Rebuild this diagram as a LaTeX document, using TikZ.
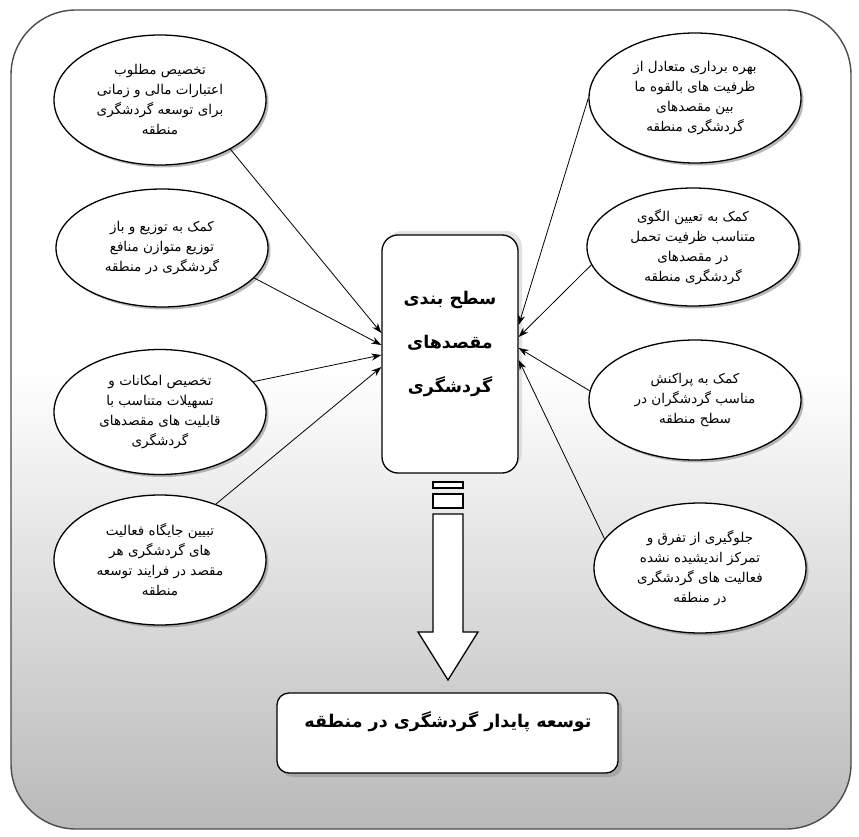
\documentclass[tikz,border=0pt]{standalone}
\usepackage{fontspec}
\newfontfamily\arabicfont[Script=Arabic]{DejaVu Sans}
\TeXXeTstate=1
\usetikzlibrary{shapes.geometric,shadows,arrows.meta,calc}
\newcommand\rl[1]{\beginR #1\endR}
\begin{document}
\begin{tikzpicture}[x=1pt,y=-1pt,
  oval/.style={ellipse,draw=black,line width=1.3pt,fill=white,minimum width=212pt,minimum height=130pt,inner sep=0pt,align=center,
    font=\arabicfont\fontsize{13.5}{20}\selectfont,
    drop shadow={shadow xshift=2.5pt,shadow yshift=-2.5pt,fill=black!55}},
  link/.style={line width=0.8pt,-{Stealth[length=10pt,width=7pt]}},
  boxline/.style={draw=black,line width=1.3pt,fill=white},
  bigtext/.style={font=\arabicfont\bfseries\fontsize{17.5}{44}\selectfont,align=center,inner sep=0pt},
]
\useasboundingbox (0,0) rectangle (859,837);
% background frame
\begin{scope}
  \clip[rounded corners=65pt] (11,10) rectangle (851,829);
  \fill[white] (0,0) rectangle (859,837);
  \shade[top color=white,bottom color=black!28] (0,370) rectangle (859,837);
\end{scope}
\draw[rounded corners=65pt,line width=1.4pt,draw=black!70] (11,10) rectangle (851,829);

% left ovals
\node[oval] (L1) at (160,100) {\rl{تخصیص مطلوب}\\\rl{اعتبارات مالی و زمانی}\\\rl{برای توسعه گردشگری}\\\rl{منطقه}};
\node[oval,minimum height=118pt] (L2) at (162,248) {\rl{کمک به توزیع و باز}\\\rl{توزیع متوازن منافع}\\\rl{گردشگری در منطقه}};
\node[oval,minimum height=125pt] (L3) at (160,412) {\rl{تخصیص امکانات و}\\\rl{تسهیلات متناسب با}\\\rl{قابلیت های مقصدهای}\\\rl{گردشگری}};
\node[oval] (L4) at (160,560) {\rl{تبیین جایگاه فعالیت}\\\rl{های گردشگری هر}\\\rl{مقصد در فرایند توسعه}\\\rl{منطقه}};

% right ovals
\node[oval] (R1) at (695,98) {\rl{بهره برداری متعادل از}\\\rl{ظرفیت های بالقوه ما}\\\rl{بین مقصدهای}\\\rl{گردشگری منطقه}};
\node[oval,minimum height=118pt] (R2) at (693,247) {\rl{کمک به تعیین الگوی}\\\rl{متناسب ظرفیت تحمل}\\\rl{در مقصدهای}\\\rl{گردشگری منطقه}};
\node[oval,minimum height=120pt] (R3) at (695,400) {\rl{کمک به پراکنش}\\\rl{مناسب گردشگران در}\\\rl{سطح منطقه}};
\node[oval] (R4) at (700,568) {\rl{جلوگیری از تفرق و}\\\rl{تمرکز اندیشیده نشده}\\\rl{فعالیت های گردشگری}\\\rl{در منطقه}};

% center box
\node[boxline,rounded corners=16pt,minimum width=136pt,minimum height=238pt,
  drop shadow={shadow xshift=4pt,shadow yshift=4pt,fill=black!22}] (C) at (450,354) {};
\node[bigtext] (Ct) at (450,344) {\rl{سطح بندی}\\\rl{مقصدهای}\\\rl{گردشگری}};

% bottom box
\node[boxline,rounded corners=12pt,minimum width=341pt,minimum height=80pt,
  drop shadow={shadow xshift=4pt,shadow yshift=-4pt,fill=black!45}] (B) at (447.5,733) {};
\node[bigtext] (Bt) at (448,722) {\rl{توسعه پایدار گردشگری در منطقه}};

% connectors
\draw[link] (L1.-35) -- ($(C.west)+(0,-21)$);
\draw[link] (L2.-18) -- ($(C.west)+(0,-9)$);
\draw[link] (L3.18) -- ($(C.west)+(0,1)$);
\draw[link] (L4.45) -- ($(C.west)+(0,13)$);
\draw[link] (R1.west) -- ($(C.east)+(0,-29)$);
\draw[link] (R2.190) -- ($(C.east)+(0,-17)$);
\draw[link] (R3.175) -- ($(C.east)+(0,-6)$);
\draw[link] (R4.163) -- ($(C.east)+(0,6)$);

% big down arrow
\draw[boxline] (433,482) rectangle (463,488);
\draw[boxline] (433,494) rectangle (463,508);
\draw[boxline] (433,514) -- (433,632) -- (418,632) -- (448,680) -- (478,632) -- (463,632) -- (463,514) -- cycle;
\end{tikzpicture}
\end{document}
